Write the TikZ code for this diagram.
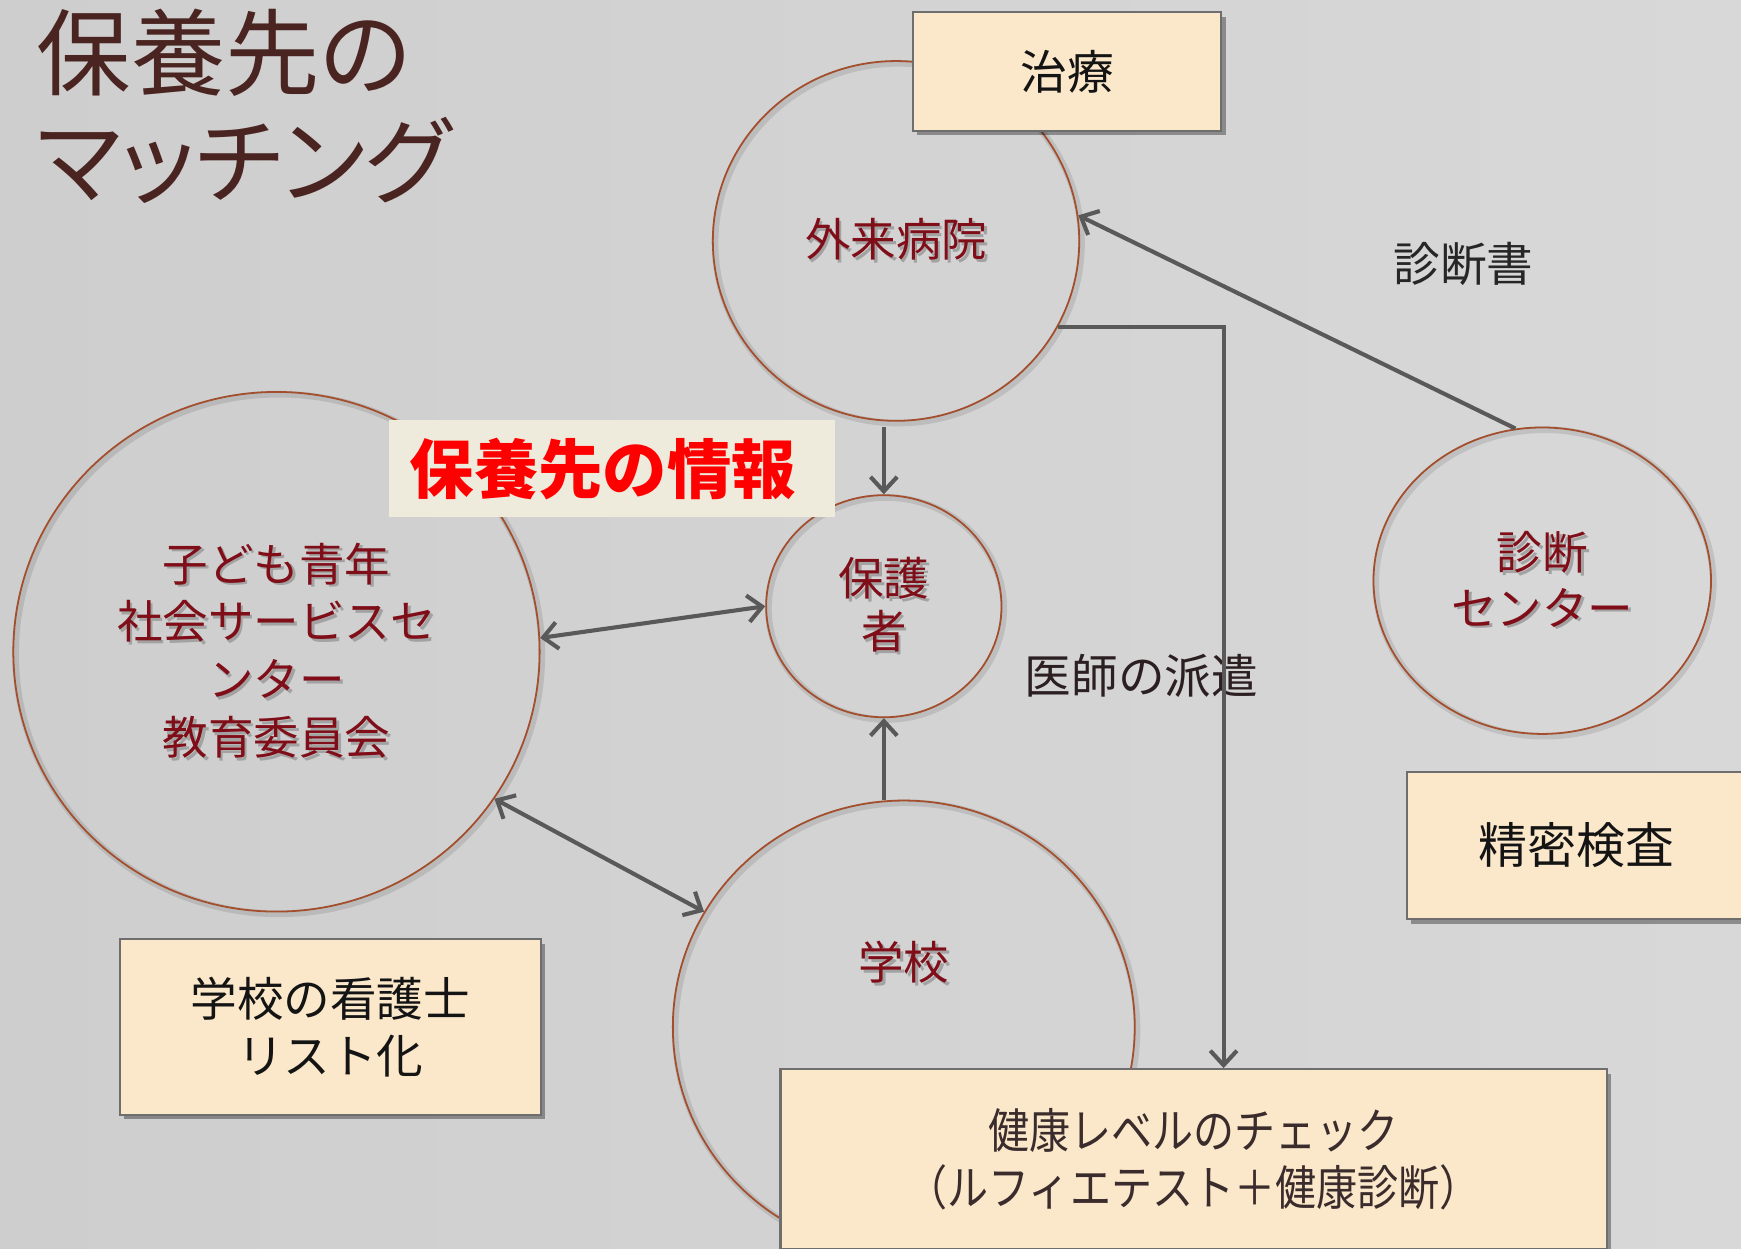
\documentclass[tikz,border=0pt]{standalone}
\usepackage{fontspec}
\setmainfont{Noto Sans CJK JP}
\newfontfamily\jptitle[RawFeature=+palt]{Noto Sans CJK JP}
\newfontfamily\jpcond[FakeStretch=0.86]{Noto Sans CJK JP}
\usetikzlibrary{arrows.meta,shapes.geometric,shadows,calc}
\definecolor{bgL}{HTML}{CECECE}
\definecolor{bgR}{HTML}{D8D8D8}
\definecolor{rim}{HTML}{A34E2C}
\definecolor{darkred}{HTML}{7F0E18}
\definecolor{linegray}{HTML}{595959}
\definecolor{peach}{HTML}{FBE8CA}
\definecolor{cream}{HTML}{EFEBDC}
\definecolor{boxrim}{HTML}{6E6E6E}
\definecolor{ink}{HTML}{141414}
\definecolor{ink2}{HTML}{262626}
\definecolor{ink3}{HTML}{2B1F22}
\definecolor{titlecol}{HTML}{4A2420}
\definecolor{txshadow}{HTML}{A2A2A2}
\definecolor{healthink}{HTML}{3A2C2C}
\newcommand\shd[1]{\makebox[0pt][l]{\kern2.5pt\raisebox{-2.5pt}{\textcolor{txshadow}{#1}}}#1}
\begin{document}
\begin{tikzpicture}[x=1pt,y=-1pt,
  conn/.style={draw=linegray, line width=3.7pt},
  >={Straight Barb[length=13pt,width=24pt]},
  bubble/.style={ellipse, draw=rim, line width=1.6pt, inner sep=0pt, text=darkred,
    font=\fontsize{41}{50}\selectfont, align=center,
    preaction={draw=black, draw opacity=0.10, line width=6pt,
      transform canvas={xshift=2pt,yshift=-2pt}}},
  box/.style={rectangle, draw=boxrim, line width=2pt, fill=peach, inner sep=0pt,
    font=\fontsize{42}{52}\selectfont, text=ink, align=center,
    drop shadow={shadow xshift=4pt, shadow yshift=-4pt, opacity=0.35, fill=black}},
  lbl/.style={inner sep=0pt, font=\fontsize{42}{50}\selectfont}
]
\useasboundingbox (0,0) rectangle (1568,1124);
\clip (0,0) rectangle (1568,1124);
\shade[left color=bgL, right color=bgR] (0,0) rectangle (1568,1124);

% title
\node[anchor=west, inner sep=0pt, text=titlecol, align=left,
  font=\jptitle\fontsize{85}{97}\selectfont] (title) at (33,96) {保養先の\\マッチング};

% circles
\node[bubble, minimum width=330pt, minimum height=324pt] (hosp) at (807,217) {\shd{外来病院}};
\node[bubble, minimum width=212pt, minimum height=200pt, font=\fontsize{41}{48}\selectfont] (hogo) at (796,546) {\shd{保護}\\\shd{者}};
\node[bubble, minimum width=474pt, minimum height=468pt, font=\fontsize{41}{52}\selectfont] (kodomo) at (249,587)
  {\shd{子ども青年}\\\shd{社会サービスセ}\\\shd{ンター}\\\shd{教育委員会}};
\node[bubble, minimum width=416pt, minimum height=408pt] (gakko) at (814,925) {};
\node[lbl, text=darkred, font=\fontsize{41}{50}\selectfont] (gakkolbl) at (814,868) {\shd{学校}};
\node[bubble, minimum width=304pt, minimum height=276pt] (shindan) at (1389,523) {\shd{診断}\\\shd{センター}};

% boxes
\node[box, minimum width=278pt, minimum height=107pt] (chiryo) at (961,64.5) {治療};
\node[box, minimum width=306pt, minimum height=133pt, font=\fontsize{44}{52}\selectfont] (seimitsu) at (1420,761.5) {精密検査};
\node[box, minimum width=379pt, minimum height=158pt] (kango) at (297.5,925) {学校の看護士\\リスト化};
\node[box, minimum width=744pt, minimum height=162pt, text=healthink,
  font=\jpcond\fontsize{43}{52}\selectfont] (health) at (1075,1044)
  {健康レベルのチェック\\（ルフィエテスト＋健康診断）};
\node[fill=cream, minimum width=402pt, minimum height=88pt, inner sep=0pt, text=red,
  font=\bfseries\fontsize{58}{60}\selectfont] (joho) at (551,422) {\kern-16pt 保養先の情報};

% labels
\node[lbl, text=ink2] (shindansho) at (1318,238) {診断書};
\node[lbl, text=ink3] (haken) at (1028,609) {医師の派遣};

% connectors
\draw[conn,->,shorten <=5pt] (hogo.north |- hosp.south) -- (hogo.north);
\draw[conn,<->] (kodomo.3) -- (hogo.west);
\draw[conn,->] (gakko.north -| hogo.south) -- (hogo.south);
\draw[conn,<->] (kodomo.-34) -- (gakko.150);
\draw[conn,->] (shindan.100) -- (hosp.8);
\draw[conn,->] (hosp.-28) -| ([xshift=400pt]health.north west);
\end{tikzpicture}
\end{document}
